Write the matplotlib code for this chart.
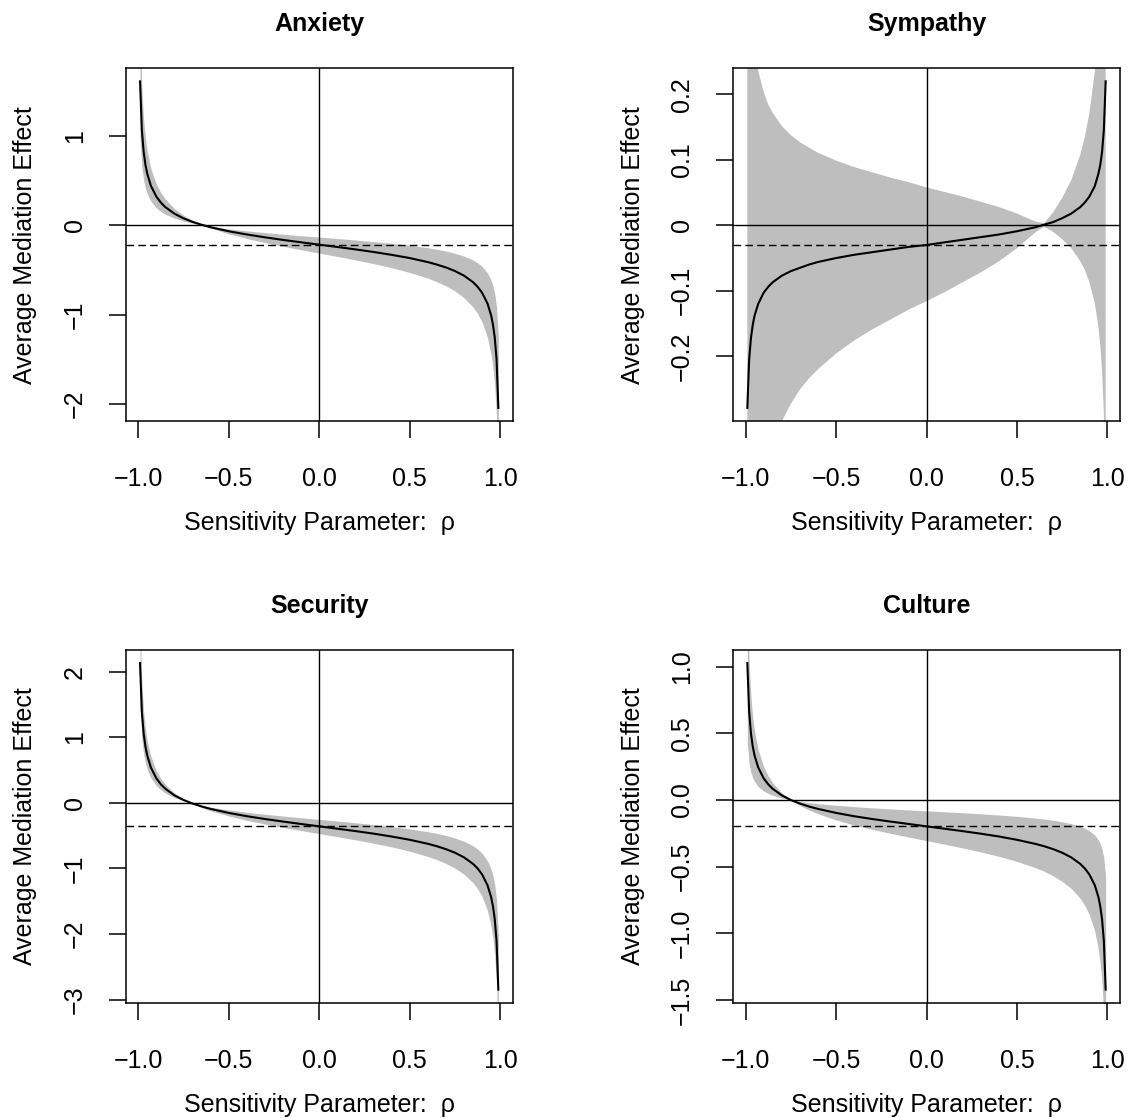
"""
Sensitivity analysis plots (ACME vs. rho) for four mediators,
drawn to look like R's base-graphics medsens output.
"""

import matplotlib.pyplot as plt

# sensitivity parameter grid
rho = [-0.99, -0.98, -0.97, -0.96, -0.95, -0.93, -0.90, -0.875, -0.85, -0.80,
       -0.75, -0.70, -0.65, -0.60, -0.50, -0.40, -0.30, -0.20, -0.10, 0.00,
       0.10, 0.20, 0.30, 0.40, 0.50, 0.60, 0.65, 0.70, 0.75, 0.80,
       0.85, 0.875, 0.90, 0.93, 0.95, 0.96, 0.97, 0.98, 0.99]

# Anxiety
anxiety_est = [1.611, 1.066, 0.822, 0.676, 0.576, 0.442, 0.321, 0.254, 0.203, 0.130,
               0.078, 0.038, 0.006, -0.022, -0.067, -0.103, -0.135, -0.164, -0.191, -0.217,
               -0.243, -0.270, -0.299, -0.331, -0.367, -0.412, -0.440, -0.472, -0.512, -0.564,
               -0.637, -0.688, -0.755, -0.876, -1.009, -1.110, -1.256, -1.500, -2.045]
anxiety_upper = [2.315, 1.531, 1.181, 0.971, 0.827, 0.635, 0.461, 0.365, 0.292, 0.187,
                 0.113, 0.055, 0.008, -0.013, -0.041, -0.063, -0.082, -0.100, -0.117, -0.132,
                 -0.148, -0.165, -0.183, -0.202, -0.224, -0.252, -0.269, -0.288, -0.313, -0.345,
                 -0.389, -0.420, -0.461, -0.535, -0.616, -0.678, -0.767, -0.916, -1.249]
anxiety_lower = [0.984, 0.651, 0.502, 0.413, 0.351, 0.270, 0.196, 0.155, 0.124, 0.080,
                 0.048, 0.023, 0.004, -0.031, -0.096, -0.148, -0.194, -0.235, -0.274, -0.312,
                 -0.349, -0.388, -0.429, -0.475, -0.528, -0.592, -0.632, -0.678, -0.736, -0.811,
                 -0.915, -0.988, -1.084, -1.259, -1.450, -1.595, -1.805, -2.155, -2.938]

# Sympathy
sympathy_est = [-0.279, -0.205, -0.172, -0.152, -0.138, -0.120, -0.103, -0.094, -0.087, -0.077,
                -0.070, -0.065, -0.060, -0.056, -0.050, -0.045, -0.041, -0.037, -0.033, -0.030,
                -0.026, -0.022, -0.018, -0.014, -0.009, -0.003, 0.001, 0.005, 0.011, 0.018,
                0.028, 0.035, 0.044, 0.060, 0.079, 0.092, 0.112, 0.146, 0.220]
sympathy_upper = [0.551, 0.404, 0.339, 0.299, 0.272, 0.236, 0.204, 0.185, 0.172, 0.152,
                  0.138, 0.127, 0.119, 0.111, 0.099, 0.089, 0.081, 0.073, 0.066, 0.058,
                  0.051, 0.044, 0.036, 0.028, 0.018, 0.006, 0.003, 0.020, 0.042, 0.069,
                  0.108, 0.135, 0.171, 0.235, 0.306, 0.360, 0.438, 0.568, 0.858]
sympathy_lower = [-1.089, -0.799, -0.669, -0.591, -0.537, -0.466, -0.402, -0.366, -0.339, -0.300,
                  -0.273, -0.251, -0.234, -0.220, -0.196, -0.176, -0.159, -0.144, -0.129, -0.116,
                  -0.102, -0.087, -0.072, -0.055, -0.035, -0.011, -0.002, -0.010, -0.021, -0.035,
                  -0.055, -0.068, -0.087, -0.119, -0.155, -0.182, -0.222, -0.287, -0.434]

# Security
security_est = [2.133, 1.390, 1.058, 0.859, 0.722, 0.540, 0.375, 0.284, 0.215, 0.115,
                0.045, -0.010, -0.054, -0.092, -0.153, -0.203, -0.246, -0.285, -0.322, -0.358,
                -0.394, -0.430, -0.469, -0.513, -0.563, -0.624, -0.661, -0.706, -0.760, -0.831,
                -0.930, -0.999, -1.091, -1.256, -1.438, -1.575, -1.774, -2.106, -2.849]
security_upper = [2.793, 1.820, 1.386, 1.125, 0.945, 0.707, 0.491, 0.371, 0.281, 0.151,
                  0.058, -0.007, -0.038, -0.065, -0.108, -0.143, -0.173, -0.201, -0.227, -0.252,
                  -0.277, -0.303, -0.331, -0.361, -0.396, -0.440, -0.466, -0.497, -0.536, -0.585,
                  -0.655, -0.704, -0.768, -0.885, -1.013, -1.109, -1.250, -1.483, -2.006]
security_lower = [1.502, 0.979, 0.745, 0.605, 0.509, 0.380, 0.264, 0.200, 0.151, 0.081,
                  0.031, -0.013, -0.071, -0.120, -0.200, -0.266, -0.322, -0.374, -0.422, -0.469,
                  -0.515, -0.563, -0.615, -0.671, -0.737, -0.817, -0.866, -0.924, -0.996, -1.088,
                  -1.218, -1.309, -1.428, -1.645, -1.883, -2.062, -2.323, -2.757, -3.730]

# Culture
culture_est = [1.027, 0.662, 0.499, 0.401, 0.333, 0.244, 0.163, 0.118, 0.084, 0.035,
               0.000, -0.027, -0.049, -0.067, -0.097, -0.122, -0.143, -0.162, -0.180, -0.198,
               -0.216, -0.234, -0.253, -0.274, -0.299, -0.329, -0.347, -0.369, -0.396, -0.431,
               -0.480, -0.514, -0.559, -0.640, -0.729, -0.797, -0.895, -1.058, -1.423]
culture_upper = [1.584, 1.020, 0.769, 0.618, 0.514, 0.376, 0.251, 0.181, 0.129, 0.054,
                 0.000, -0.011, -0.020, -0.028, -0.040, -0.050, -0.059, -0.067, -0.075, -0.082,
                 -0.089, -0.096, -0.104, -0.113, -0.123, -0.136, -0.143, -0.152, -0.164, -0.178,
                 -0.198, -0.212, -0.231, -0.264, -0.301, -0.329, -0.369, -0.437, -0.588]
culture_lower = [0.424, 0.273, 0.206, 0.165, 0.138, 0.101, 0.067, 0.049, 0.035, 0.014,
                 0.000, -0.041, -0.075, -0.103, -0.150, -0.188, -0.221, -0.250, -0.278, -0.305,
                 -0.332, -0.360, -0.390, -0.423, -0.461, -0.507, -0.535, -0.569, -0.611, -0.664,
                 -0.740, -0.792, -0.861, -0.986, -1.124, -1.228, -1.379, -1.631, -2.194]

xticks = [-1.0, -0.5, 0.0, 0.5, 1.0]
xticklabels = ["\u22121.0", "\u22120.5", "0.0", "0.5", "1.0"]

anxiety_yticks = [-2, -1, 0, 1]
anxiety_yticklabels = ["\u22122", "\u22121", "0", "1"]
sympathy_yticks = [-0.2, -0.1, 0.0, 0.1, 0.2]
sympathy_yticklabels = ["\u22120.2", "\u22120.1", "0", "0.1", "0.2"]
security_yticks = [-3, -2, -1, 0, 1, 2]
security_yticklabels = ["\u22123", "\u22122", "\u22121", "0", "1", "2"]
culture_yticks = [-1.5, -1.0, -0.5, 0.0, 0.5, 1.0]
culture_yticklabels = ["\u22121.5", "\u22121.0", "\u22120.5", "0.0", "0.5", "1.0"]

W, H = 1128, 1118


def r_range(values):
    # R's default axis extension of 4%
    lo, hi = min(values), max(values)
    pad = 0.04 * (hi - lo)
    return lo - pad, hi + pad


def sens_panel(fig, rect, title, est, lower, upper, yticks, yticklabels):
    ax = fig.add_axes(rect)

    ax.fill_between(rho, lower, upper, color="#bebebe", linewidth=0, zorder=1)
    ax.plot(rho, est, color="black", lw=1.5, zorder=3)

    d0 = est[rho.index(0.0)]
    ax.axhline(0, color="black", lw=1.0, zorder=2)
    ax.axvline(0, color="black", lw=1.0, zorder=2)
    ax.axhline(d0, color="black", lw=1.0, ls=(0, (5.5, 3)), zorder=2)

    ax.set_xlim(r_range(rho))
    ax.set_ylim(r_range(est))

    ax.set_xticks(xticks)
    ax.set_xticklabels(xticklabels)
    ax.set_yticks(yticks)
    ax.set_yticklabels(yticklabels, rotation=90, va="center")

    ax.tick_params(direction="out", length=12, width=1.1, labelsize=18)
    ax.tick_params(axis="x", pad=21)
    ax.tick_params(axis="y", pad=16)
    for sp in ax.spines.values():
        sp.set_linewidth(1.1)
        sp.set_zorder(4)

    ax.set_title(title, fontsize=18, fontweight="bold", pad=27)
    ax.set_xlabel("Sensitivity Parameter:  \u03c1", fontsize=18)
    ax.set_ylabel("Average Mediation Effect", fontsize=18)
    ax.xaxis.set_label_coords(0.5, -0.256)
    ax.yaxis.set_label_coords(-0.228, 0.5)
    return ax


plt.rcParams["font.family"] = ["Liberation Sans", "DejaVu Sans"]

fig = plt.figure(figsize=(W / 100, H / 100), dpi=100)

box_w, box_h = 387 / W, 352.7 / H
left_col, right_col = 125.7 / W, 733 / W
top_row, bottom_row = 1 - 421 / H, 1 - 1002.7 / H

sens_panel(fig, [left_col, top_row, box_w, box_h], "Anxiety",
           anxiety_est, anxiety_lower, anxiety_upper, anxiety_yticks, anxiety_yticklabels)
sens_panel(fig, [right_col, top_row, box_w, box_h], "Sympathy",
           sympathy_est, sympathy_lower, sympathy_upper, sympathy_yticks, sympathy_yticklabels)
sens_panel(fig, [left_col, bottom_row, box_w, box_h], "Security",
           security_est, security_lower, security_upper, security_yticks, security_yticklabels)
sens_panel(fig, [right_col, bottom_row, box_w, box_h], "Culture",
           culture_est, culture_lower, culture_upper, culture_yticks, culture_yticklabels)

fig.savefig("out.png", dpi=100)
